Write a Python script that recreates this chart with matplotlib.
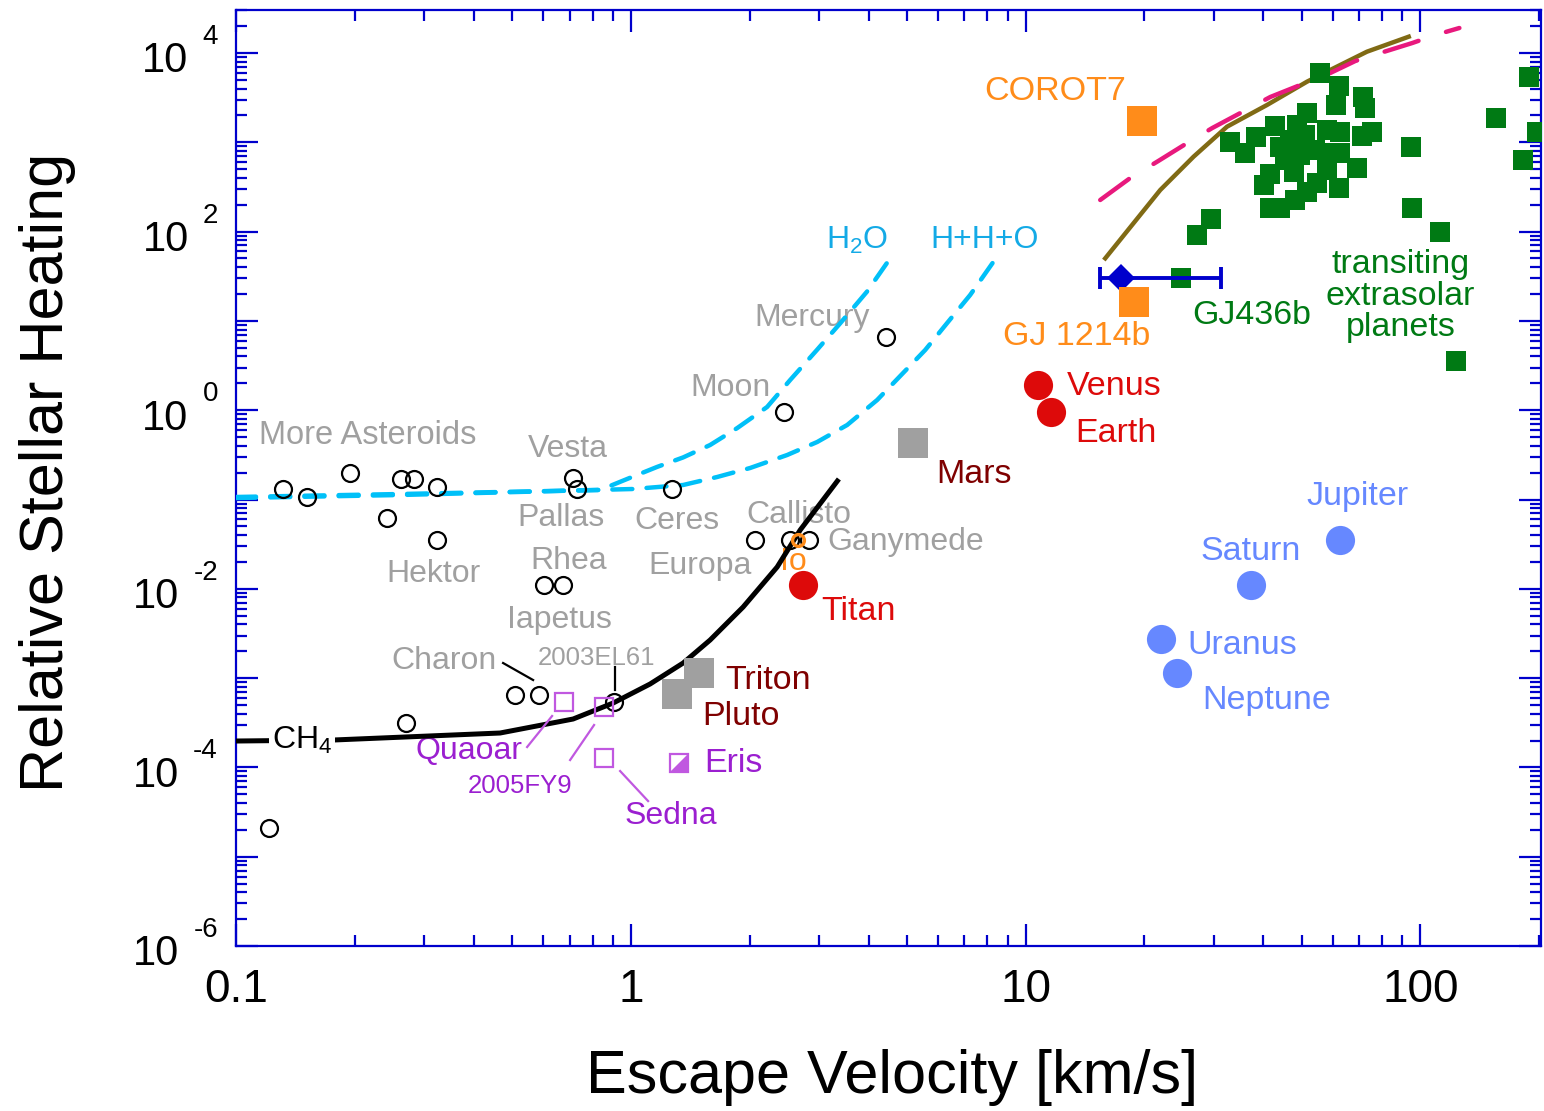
import numpy as np
import matplotlib
matplotlib.use("Agg")
import matplotlib.pyplot as plt
from matplotlib.ticker import FixedLocator, LogLocator, NullFormatter, FixedFormatter
from matplotlib.path import Path

plt.rcParams["font.family"] = ["Liberation Sans", "DejaVu Sans"]
plt.rcParams["mathtext.fontset"] = "custom"
plt.rcParams["mathtext.rm"] = "Liberation Sans"
plt.rcParams["mathtext.it"] = "Liberation Sans:italic"
plt.rcParams["mathtext.default"] = "regular"

# ---------------- data: escape velocity [km/s] vs relative stellar heating ----------------
# small bodies (asteroids, moons, Mercury, Moon) - open black circles
small_v = [0.1215, 0.1313, 0.1510, 0.1945, 0.2408, 0.2614, 0.2825, 0.3236, 0.3236,
           0.2696, 0.509, 0.5847, 0.6033, 0.6725, 0.7153, 0.7296, 0.907, 1.275,
           2.065, 2.533, 2.835, 2.449, 4.426]
small_h = [2.09e-5, 0.130, 0.106, 0.1965, 0.0616, 0.1697, 0.1697, 0.139, 0.0352,
           3.12e-4, 6.52e-4, 6.52e-4, 0.01094, 0.01094, 0.1727, 0.130, 5.44e-4, 0.130,
           0.0352, 0.0352, 0.0352, 0.947, 6.55]

io_v, io_h = [2.654], [0.0352]

# Kuiper belt objects - open purple squares
kbo_names = ["Quaoar", "2005FY9", "Sedna"]
kbo_v = [0.6776, 0.8555, 0.8555]
kbo_h = [5.44e-4, 4.78e-4, 1.285e-4]
eris_v, eris_h = [1.328], [1.13e-4]

# bodies with thin atmospheres - gray squares
gray_names = ["Mars", "Triton", "Pluto"]
gray_v = [5.17, 1.487, 1.312]
gray_h = [0.426, 1.132e-3, 6.58e-4]

# bodies with substantial atmospheres - red circles
red_names = ["Venus", "Earth", "Titan"]
red_v = [10.74, 11.61, 2.733]
red_h = [1.915, 0.962, 0.01094]

# giant planets - blue circles
giant_names = ["Jupiter", "Saturn", "Uranus", "Neptune"]
giant_v = [62.4, 37.3, 22.0, 24.2]
giant_h = [0.0352, 0.01094, 2.76e-3, 1.132e-3]

# super-Earths - orange squares
orange_names = ["COROT7", "GJ 1214b"]
orange_v = [19.71, 18.77]
orange_h = [1746.0, 16.16]

# GJ436b with escape velocity range
gj436_v, gj436_h = 17.47, 30.0
gj436_vmin, gj436_vmax = 15.45, 31.25

# transiting extrasolar planets - green squares
exo_v = [55.8, 62.1, 61.2, 71.5, 72.5, 51.6, 48.7, 42.9, 38.4, 32.9, 36.0, 44.2,
         58.0, 62.7, 75.4, 71.1, 58.0, 62.7, 69.1, 41.5, 40.1, 47.7, 58.0, 54.7,
         62.1, 51.6, 48.2, 44.2, 41.5, 29.4, 27.2, 95.2, 111.9, 123.3, 94.6, 155.7,
         182.0, 188.0, 197.0, 46.8, 51.1, 54.2, 49.6, 45.5, 24.75]
exo_h = [6017, 4303, 2617, 3240, 2403, 2145, 1562, 1522, 1155, 1016, 765, 893,
         1373, 1314, 1314, 1176, 753, 753, 511, 442, 333, 469, 490, 347,
         305, 280, 226, 182, 182, 137, 91.6, 182, 98.2, 3.6, 886, 1895,
         629, 5345, 1314, 1061, 1207, 820, 721, 634, 30.0]

# escape limits
ch4_v = [0.1, 0.1761, 0.4666, 0.7142, 0.9021, 1.119, 1.357, 1.588, 1.925, 2.348, 2.685, 3.365]
ch4_h = [1.975e-4, 2.026e-4, 2.428e-4, 3.483e-4, 5.26e-4, 8.59e-4, 1.476e-3, 2.67e-3,
         6.25e-3, 0.01754, 0.0455, 0.1697]

h2o_v = [0.1, 0.2603, 0.836, 0.9786, 1.166, 1.357, 1.588, 1.859, 2.214, 2.533, 2.96,
         3.391, 3.963, 4.539]
h2o_h = [0.1067, 0.1152, 0.1278, 0.1697, 0.2318, 0.296, 0.4076, 0.630, 1.086, 2.179,
         4.722, 9.40, 21.23, 50.2]

hho_v = [0.1, 0.2603, 1.0135, 1.357, 1.654, 2.005, 2.489, 2.965, 3.532, 4.207, 5.567,
         6.319, 7.236, 8.291]
hho_h = [0.1039, 0.1123, 0.1311, 0.1454, 0.1786, 0.2253, 0.315, 0.4405, 0.6829, 1.301,
         4.722, 9.40, 19.5, 46.0]

brown_v = [15.91, 21.93, 26.63, 32.36, 40.87, 51.6, 60.27, 73.2, 93.4]
brown_h = [50.2, 292.4, 689.9, 1495, 2617, 4771, 6743, 10340, 15220]

pink_v = [15.45, 18.41, 21.68, 25.67, 29.71, 35.38, 41.66, 49.62, 59.11, 68.41, 79.12,
          95.39, 109.1, 125.5]
pink_h = [225.9, 398.3, 617.5, 982.2, 1446, 2184, 3216, 4382, 5970, 8136, 10000,
          12940, 15910, 19050]

x_ticks = [0.1, 1, 10, 100]
x_tick_labels = ["0.1", "1", "10", "100"]
y_label_exponents = [-6, -4, -2, 0, 2, 4]

# ---------------- colours ----------------
AXBLUE = "#0000CC"
GRAY = "#A0A0A0"
ORANGE = "#FF8C1A"
RED = "#DD0A0A"
DKRED = "#7F0000"
PURPLE_T = "#9B1FD0"
PURPLE_M = "#C058E0"
LBLUE = "#6688FF"
GREEN = "#007A14"
CYAN = "#00C0F8"
CYAN_T = "#14AAE6"
BROWN = "#806A14"
PINK = "#E8197D"

fig = plt.figure(figsize=(15.44, 11.11), dpi=100)
ax = fig.add_axes([0.15285, 0.1485, 0.8452, 0.8425])
ax.set_xscale("log")
ax.set_yscale("log")
ax.set_xlim(0.1, 202)
ax.set_ylim(1e-6, 3.03e4)

# curves
ax.plot(ch4_v, ch4_h, color="k", lw=3.6, zorder=3, solid_capstyle="butt")
ax.plot(h2o_v, h2o_h, color=CYAN, lw=3.2, dashes=(4.5, 3.2), dash_capstyle="round", zorder=3)
ax.plot(hho_v, hho_h, color=CYAN, lw=3.2, dashes=(4.5, 3.2), dash_capstyle="round", zorder=3)
ax.plot(brown_v, brown_h, color=BROWN, lw=3.2, zorder=3)
ax.plot(pink_v, pink_h, color=PINK, lw=3.2, dashes=(8, 6.5), dash_capstyle="round", zorder=3)

# markers
ax.plot(small_v, small_h, "o", ms=12.2, mfc="none", mec="k", mew=1.6, zorder=4)
ax.plot(io_v, io_h, "o", ms=8.5, mfc="none", mec=ORANGE, mew=2.4, zorder=5)
ax.plot(kbo_v, kbo_h, "s", ms=12.5, mfc="none", mec=PURPLE_M, mew=1.6, zorder=4)
tri = Path([(-1, -1), (1, -1), (1, 1), (-1, -1)], [Path.MOVETO, Path.LINETO, Path.LINETO, Path.CLOSEPOLY])
ax.plot(eris_v, eris_h, marker=tri, ls="none", ms=13, color=PURPLE_M, mew=0, zorder=4)
ax.plot(eris_v, eris_h, "s", ms=13, mfc="none", mec=PURPLE_M, mew=1.6, zorder=4)
ax.plot(gray_v, gray_h, "s", ms=22, color=GRAY, mew=0, zorder=4)
ax.plot(red_v, red_h, "o", ms=21, color=RED, mew=0, zorder=4)
ax.plot(giant_v, giant_h, "o", ms=21, color=LBLUE, mew=0, zorder=4)
ax.plot(exo_v, exo_h, "s", ms=14.5, color=GREEN, mew=0, zorder=4)
ax.errorbar([gj436_v], [gj436_h],
            xerr=[[gj436_v - gj436_vmin], [gj436_vmax - gj436_v]],
            fmt="none", ecolor=AXBLUE, elinewidth=2.8, capsize=8, capthick=2.8, zorder=5)
ax.plot([gj436_v], [gj436_h], "D", ms=14, color=AXBLUE, mew=0, zorder=5)
ax.plot(orange_v, orange_h, "s", ms=22, color=ORANGE, mew=0, zorder=6)

# labels
labels = [
    ("More Asteroids", 0.1144, 0.5275, GRAY, 23.5),
    ("Vesta", 0.5494, 0.3677, GRAY, 23),
    ("Pallas", 0.5153, 0.0621, GRAY, 23),
    ("Ceres", 1.0195, 0.0574, GRAY, 23),
    ("Callisto", 1.959, 0.0671, GRAY, 23),
    ("Ganymede", 3.143, 0.0334, GRAY, 23),
    ("Europa", 1.106, 0.018, GRAY, 23),
    ("Hektor", 0.2399, 0.01464, GRAY, 23),
    ("Rhea", 0.5558, 0.02048, GRAY, 23),
    ("Iapetus", 0.486, 4.474e-3, GRAY, 23),
    ("Charon", 0.247, 1.554e-3, GRAY, 23),
    ("2003EL61", 0.5822, 1.68e-3, GRAY, 18.5),
    ("Mercury", 2.053, 10.78, GRAY, 23),
    ("Moon", 1.413, 1.773, GRAY, 23),
    ("COROT7", 7.855, 3659, ORANGE, 24.5),
    ("GJ 1214b", 8.774, 6.774, ORANGE, 24.5),
    ("Io", 2.389, 0.01996, ORANGE, 23),
    ("Venus", 12.75, 1.866, RED, 24.5),
    ("Earth", 13.36, 0.5414, RED, 24.5),
    ("Titan", 3.034, 5.5e-3, RED, 24.5),
    ("Mars", 5.935, 0.193, DKRED, 24.5),
    ("Triton", 1.734, 9.52e-4, DKRED, 24.5),
    ("Pluto", 1.516, 3.764e-4, DKRED, 24.5),
    ("Quaoar", 0.2841, 1.526e-4, PURPLE_T, 23),
    ("2005FY9", 0.3872, 6.19e-5, PURPLE_T, 18.5),
    ("Sedna", 0.9616, 2.855e-5, PURPLE_T, 23),
    ("Eris", 1.533, 1.092e-4, PURPLE_T, 24.5),
    ("Jupiter", 51.38, 0.1094, LBLUE, 24.5),
    ("Saturn", 27.7, 0.0265, LBLUE, 24.5),
    ("Uranus", 25.67, 2.348e-3, LBLUE, 24.5),
    ("Neptune", 28.02, 5.685e-4, LBLUE, 24.5),
    ("GJ436b", 26.43, 11.35, GREEN, 24.5),
    ("H$_2$O", 3.125, 80.5, CYAN_T, 23),
    ("H+H+O", 5.733, 80.5, CYAN_T, 23),
]
for txt, x, y, c, fs in labels:
    ax.text(x, y, txt, color=c, fontsize=fs, ha="left", va="center", zorder=2)

ax.text(88.95, 19.0, "transiting\nextrasolar\nplanets", color=GREEN, fontsize=24.5,
        ha="center", va="center", linespacing=1.02, zorder=2)
ax.text(0.1234, 2.026e-4, "CH$_4$", color="k", fontsize=23, ha="left", va="center", zorder=5,
        bbox=dict(boxstyle="square,pad=0.08", fc="white", ec="none"))

# leader lines
leaders = [
    ([0.4748, 0.5656], [1.476e-3, 9.52e-4], "k"),
    ([0.9125, 0.9125], [1.331e-3, 7.36e-4], "k"),
    ([0.5462, 0.6318], [1.692e-4, 3.764e-4], PURPLE_M),
    ([0.7019, 0.8071], [1.21e-4, 2.984e-4], PURPLE_M),
    ([0.9395, 1.106], [9.11e-5, 4.2e-5], PURPLE_M),
]
for xs, ys, c in leaders:
    ax.plot(xs, ys, color=c, lw=1.6, zorder=3)

# axes styling
for sp in ax.spines.values():
    sp.set_color(AXBLUE)
    sp.set_linewidth(1.6)

ax.xaxis.set_major_locator(FixedLocator(x_ticks))
ax.xaxis.set_major_formatter(FixedFormatter(x_tick_labels))
ax.xaxis.set_minor_locator(LogLocator(base=10, subs=np.arange(2, 10), numticks=100))
ax.xaxis.set_minor_formatter(NullFormatter())
ax.yaxis.set_major_locator(FixedLocator([10.0 ** k for k in range(-6, 5)]))
ax.yaxis.set_major_formatter(NullFormatter())
ax.yaxis.set_minor_locator(LogLocator(base=10, subs=np.arange(2, 10), numticks=100))
ax.yaxis.set_minor_formatter(NullFormatter())

ax.tick_params(which="both", direction="in", top=True, right=True, color=AXBLUE, width=1.6)
ax.tick_params(which="major", length=16)
ax.tick_params(which="minor", length=8)
ax.tick_params(axis="x", which="major", labelsize=33, pad=16, labelcolor="k")

for k in y_label_exponents:
    e = ax.annotate(f"{k}", xy=(0, 10.0 ** k), xycoords=("axes fraction", "data"),
                    xytext=(-13, 6.5), textcoords="offset points", ha="right", va="baseline",
                    fontsize=20, annotation_clip=False)
    ax.annotate("10", xy=(0, 10.0 ** k), xycoords=(e, "data"), xytext=(-10, -14),
                textcoords="offset points", ha="right", va="baseline", fontsize=30,
                annotation_clip=False)

fig.text(892 / 1544, 1 - 1077 / 1111, "Escape Velocity [km/s]", fontsize=44, ha="center", va="center")
fig.text(48 / 1544, 1 - 472 / 1111, "Relative Stellar Heating", fontsize=44, rotation=90,
         ha="center", va="center")

fig.savefig("out.png", dpi=100)
